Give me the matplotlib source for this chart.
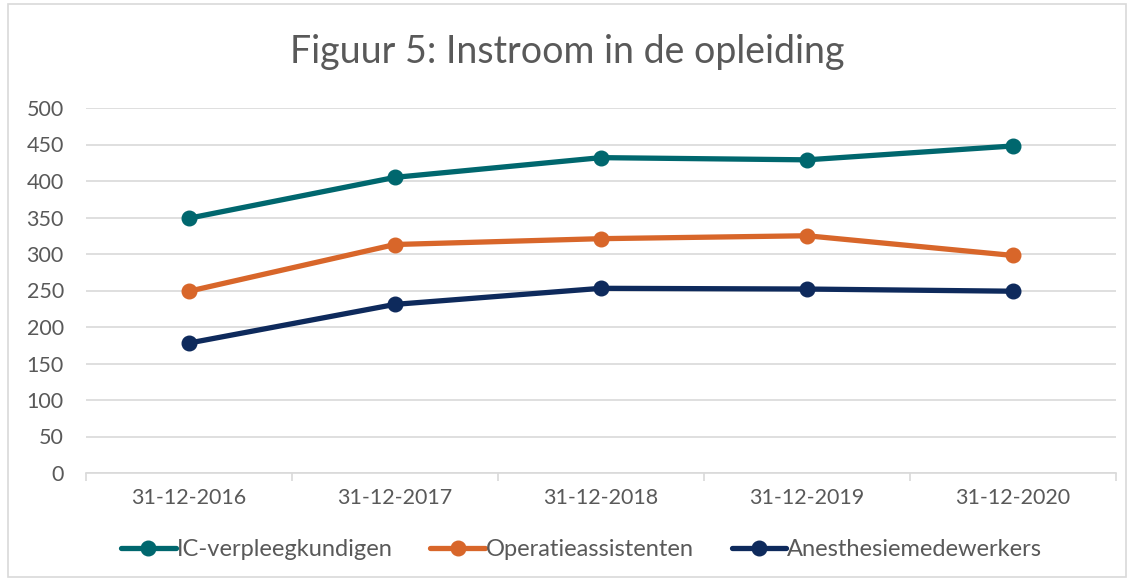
import matplotlib
matplotlib.use("Agg")
import matplotlib.pyplot as plt
from matplotlib.patches import Rectangle

categories = ["31-12-2016", "31-12-2017", "31-12-2018", "31-12-2019", "31-12-2020"]
ic = [349, 405, 432, 429, 448]
operatie = [249, 313, 321, 325, 298]
anesthesie = [178, 231, 253, 252, 249]
series_names = ["IC-verpleegkundigen", "Operatieassistenten", "Anesthesiemedewerkers"]
yticks = [0, 50, 100, 150, 200, 250, 300, 350, 400, 450, 500]

colors = ["#00676E", "#D8662A", "#0E2A5C"]
plt.rcParams['font.family'] = ['Lato', 'DejaVu Sans']

fig = plt.figure(figsize=(11.34, 5.81), dpi=100)
fig.patches.append(Rectangle((8/1134, 4/581), 1118/1134, 573/581, transform=fig.transFigure,
                             fill=False, edgecolor="#D9D9D9", linewidth=1.2))
ax = fig.add_axes([86/1134, 1 - 473/581, 1030/1134, 365/581])

x = list(range(len(categories)))
for vals, name, c in zip([ic, operatie, anesthesie], series_names, colors):
    ax.plot(x, vals, color=c, linewidth=3.8, marker="o", markersize=10.5, label=name,
            solid_capstyle="round")

ax.set_xlim(-0.5, len(categories) - 0.5)
ax.set_ylim(0, 500)
ax.set_yticks(yticks)
ax.set_yticklabels([str(v) for v in yticks], fontsize=15.5, color="#595959")
ax.set_xticks(x)
ax.set_xticklabels(categories, fontsize=15.5, color="#595959")
ax.tick_params(axis="y", length=0, pad=16)
ax.tick_params(axis="x", length=0, pad=11)
# category boundary tick marks
ax.set_xticks([i - 0.5 for i in range(len(categories) + 1)], minor=True)
ax.tick_params(axis="x", which="minor", length=6, color="#D9D9D9", width=1.2)
ax.grid(axis="y", color="#D9D9D9", linewidth=1.2)
ax.set_axisbelow(True)
for s in ["top", "right", "left"]:
    ax.spines[s].set_visible(False)
ax.spines["bottom"].set_color("#D9D9D9")
ax.spines["bottom"].set_linewidth(1.2)

fig.text(0.5, 1 - 52/581, "Figuur 5: Instroom in de opleiding", ha="center", va="center",
         fontsize=27, color="#595959")

leg = fig.legend(loc="center", bbox_to_anchor=(0.513, 1 - 550/581), ncol=3, frameon=False,
                 fontsize=17, handlelength=2.3, columnspacing=1.6, handletextpad=0.05,
                 labelcolor="#595959")

fig.savefig("out.png", dpi=100)
